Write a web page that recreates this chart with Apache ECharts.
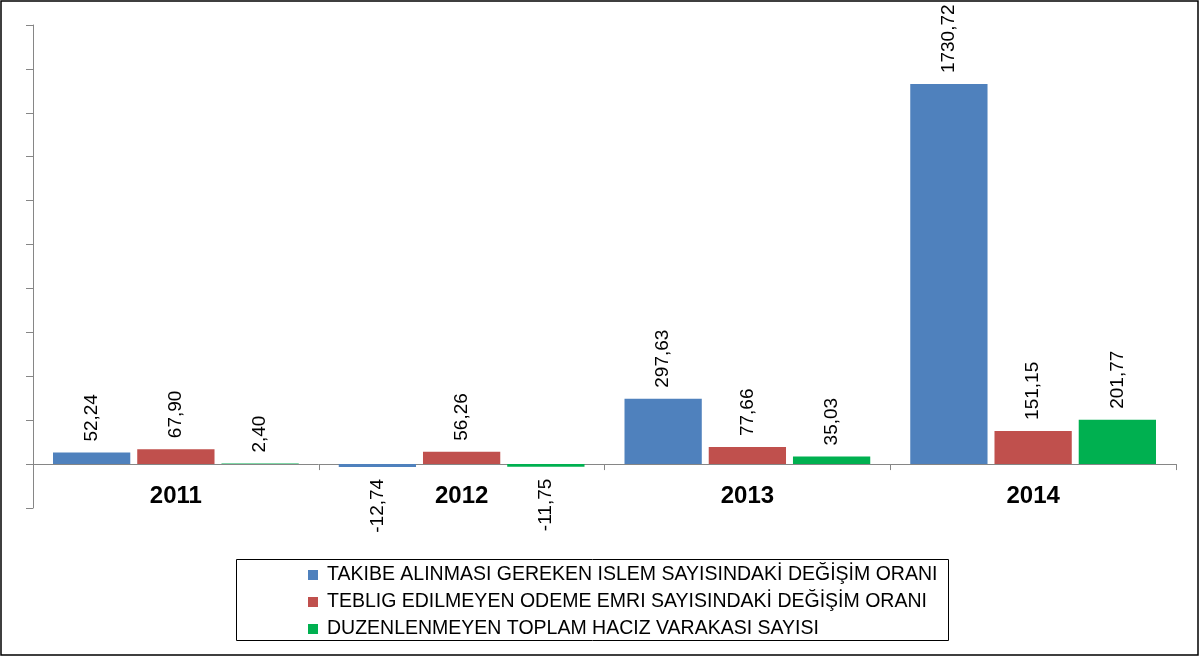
<!DOCTYPE html>
<html><head><meta charset="utf-8">
<script src="https://cdn.jsdelivr.net/npm/echarts@6/dist/echarts.min.js"></script>
<style>html,body{margin:0;padding:0;background:#fff}#c{width:1200px;height:657px}</style>
</head><body><div id="c"></div>
<script>
const categories = ['2011', '2012', '2013', '2014'];
const seriesNames = [
  'TAKIBE ALINMASI GEREKEN ISLEM SAYISINDAKİ DEĞİŞİM ORANI',
  'TEBLIG EDILMEYEN ODEME EMRI SAYISINDAKİ DEĞİŞİM ORANI',
  'DUZENLENMEYEN TOPLAM HACIZ VARAKASI SAYISI'
];
const takibe = [52.24, -12.74, 297.63, 1730.72];
const teblig = [67.90, 56.26, 77.66, 151.15];
const duzen = [2.40, -11.75, 35.03, 201.77];
const colors = ['#4F81BD', '#C0504D', '#00B050'];
const FONT = 'Liberation Sans';

function mkData(arr) {
  return arr.map(v => v < 0 ? {
    value: v,
    label: { position: 'bottom', align: 'right', distance: 12 }
  } : { value: v });
}
function mkSeries(name, arr, i) {
  return {
    name: name, type: 'bar', data: mkData(arr), xAxisIndex: 0,
    itemStyle: { color: colors[i] },
    barGap: '9%', barCategoryGap: '14%',
    label: {
      show: true, position: 'top', rotate: 90, align: 'left', verticalAlign: 'middle',
      distance: 11, fontFamily: FONT, fontSize: 19, color: '#000',
      formatter: p => p.value.toFixed(2).replace('.', ',')
    }
  };
}
const chart = echarts.init(document.getElementById('c'));
chart.setOption({
  animation: false,
  backgroundColor: '#fff',
  grid: { left: 33, right: 24, top: 25, bottom: 149, containLabel: false },
  xAxis: [{
    type: 'category', data: categories,
    axisLine: { onZero: true, lineStyle: { color: '#868686', width: 1 } },
    axisTick: { show: true, length: 6, lineStyle: { color: '#868686' } },
    axisLabel: { show: false }
  }, {
    type: 'category', data: categories, position: 'bottom',
    axisLine: { show: false, onZero: false },
    axisTick: { show: false },
    axisLabel: { fontFamily: FONT, fontWeight: 'bold', fontSize: 24, color: '#000',
      verticalAlign: 'middle', margin: -12 }
  }],
  yAxis: {
    type: 'value', min: -200, max: 2000, interval: 200,
    axisLine: { show: true, lineStyle: { color: '#868686' } },
    axisTick: { show: true, length: 7, lineStyle: { color: '#868686' } },
    axisLabel: { show: false },
    splitLine: { show: false }
  },
  legend: {
    orient: 'vertical', left: 308, top: 565, padding: 0,
    itemWidth: 10, itemHeight: 10, itemGap: 7, icon: 'rect',
    textStyle: { fontFamily: FONT, fontSize: 19.5, color: '#000', lineHeight: 17, padding: [0, 0, 0, 4] },
    data: seriesNames
  },
  graphic: [
    { type: 'rect', shape: { x: 1, y: 1, width: 1197, height: 654 }, style: { fill: 'none', stroke: '#000', lineWidth: 1.5 }, silent: true },
    { type: 'rect', shape: { x: 236.5, y: 559.5, width: 712, height: 81 }, style: { fill: 'none', stroke: '#000', lineWidth: 1 }, silent: true }
  ],
  series: [
    mkSeries(seriesNames[0], takibe, 0),
    mkSeries(seriesNames[1], teblig, 1),
    mkSeries(seriesNames[2], duzen, 2)
  ]
});
</script></body></html>
